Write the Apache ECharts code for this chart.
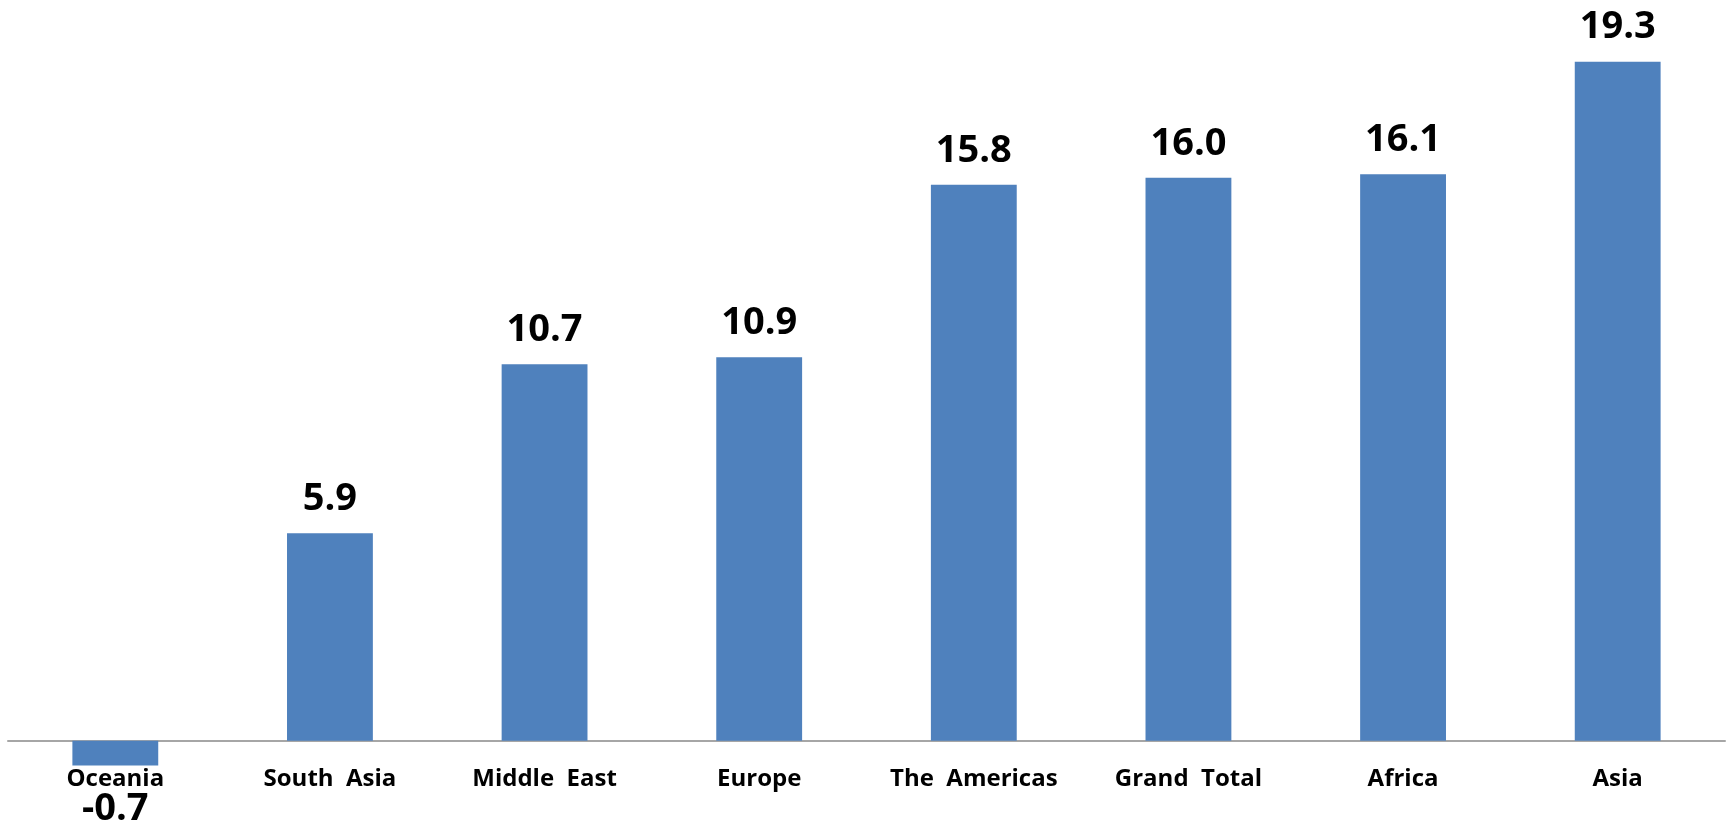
<!DOCTYPE html>
<html>
<head>
<meta charset="utf-8">
<script src="https://cdn.jsdelivr.net/npm/echarts@6/dist/echarts.min.js"></script>
<style>
html,body{margin:0;padding:0;background:#fff;}
#chart{width:1727px;height:824px;}
</style>
</head>
<body>
<div id="chart"></div>
<script>
const categories = ["Oceania", "South  Asia", "Middle  East", "Europe", "The  Americas", "Grand  Total", "Africa", "Asia"];
const values = [-0.7, 5.9, 10.7, 10.9, 15.8, 16.0, 16.1, 19.3];

const chart = echarts.init(document.getElementById('chart'));
const fontFamily = '"Open Sans", Lato, sans-serif';
chart.setOption({
  animation: false,
  backgroundColor: '#ffffff',
  grid: { left: 8, right: 2, top: 37, bottom: 48, containLabel: false },
  xAxis: {
    type: 'category',
    data: categories,
    axisLine: { show: true, onZero: true, lineStyle: { color: '#a6a6a6', width: 2 } },
    axisTick: { show: false },
    axisLabel: { color: '#000', fontFamily: fontFamily, fontWeight: 'bold', fontSize: 24, margin: -9, interval: 0 }
  },
  yAxis: {
    type: 'value',
    min: -1,
    max: 20,
    show: false,
    splitLine: { show: false }
  },
  series: [{
    type: 'bar',
    barWidth: '40%',
    data: values.map(function (v) {
      return v < 0 ? { value: v, label: { position: 'bottom', distance: 25 } } : v;
    }),
    itemStyle: { color: '#4F81BD' },
    label: {
      show: true,
      position: 'top',
      distance: 15,
      color: '#000',
      fontFamily: fontFamily,
      fontWeight: 'bold',
      fontSize: 38,
      formatter: function (p) { return p.value.toFixed(1); }
    }
  }]
});
</script>
</body>
</html>
